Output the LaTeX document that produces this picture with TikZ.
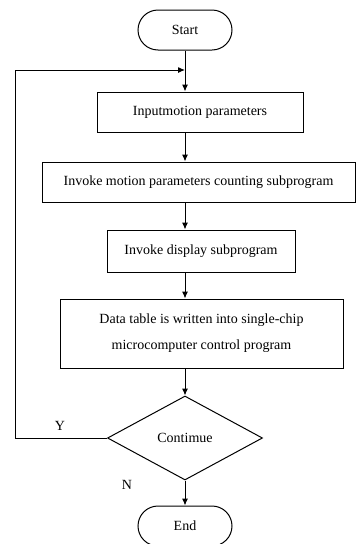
\documentclass[tikz,border=0pt]{standalone}
\usepackage{fontspec}
\setmainfont{Liberation Serif}
\usetikzlibrary{shapes.geometric,arrows.meta}
\tikzset{
  box/.style={draw,line width=1pt,align=center,inner sep=0pt},
  term/.style={box,rounded corners=20pt,minimum width=94pt,minimum height=40pt},
  decide/.style={draw,line width=1pt,diamond,aspect=1.85,inner sep=0pt,
    minimum width=155pt,minimum height=84pt},
  arr/.style={line width=1pt,-{Latex[length=7pt,width=6pt]}}
}
\begin{document}
\begin{tikzpicture}[x=1pt,y=-1pt,font=\fontsize{14}{26}\selectfont]
        \useasboundingbox (0,0) rectangle (356,544);
        \node[term] (start) at (185,30) {Start};
        \node[box,minimum width=206pt,minimum height=40pt] (input) at (200,112) {Inputmotion parameters};
        \node[box,minimum width=313pt,minimum height=40pt] (count) at (198.5,182) {Invoke motion parameters counting subprogram};
        \node[box,minimum width=188pt,minimum height=42pt] (disp) at (201,251) {Invoke display subprogram};
        \node[box,minimum width=283pt,minimum height=69pt] (table) at (201.5,333.5)
          {Data table is written into single-chip\\microcomputer control program};
        \node[decide] (cont) at (185,438) {Contimue};
        \node[term] (stop) at (185,526) {End};
        %%
        \draw[arr] (start.south) -- (start.south |- input.north);
        \draw[arr] (start.south |- input.south) -- (start.south |- count.north);
        \draw[arr] (start.south |- count.south) -- (start.south |- disp.north);
        \draw[arr] (start.south |- disp.south) -- (start.south |- table.north);
        \draw[arr] (start.south |- table.south) -- (cont.north);
        \draw[arr] (cont.south) -- (stop.north);
        %% loop back
        \coordinate (turn) at (15,70);
        \coordinate (join) at (185,70);
        \draw[arr] (cont.west) -| (turn) -- (join);
        \node (yes) at (60,426) {Y};
        \node (no) at (127,485) {N};
      \end{tikzpicture}
\end{document}
